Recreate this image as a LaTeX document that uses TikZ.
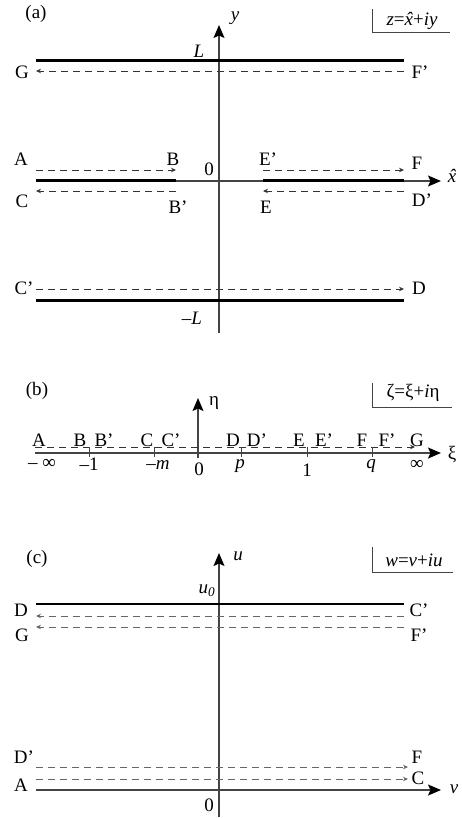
\documentclass[tikz,border=0pt]{standalone}
\usepackage{fontspec}
\setmainfont{Liberation Serif}
\usetikzlibrary{arrows.meta}
\definecolor{axisgray}{HTML}{444444}
\definecolor{dashgray}{HTML}{333333}
\definecolor{dashlight}{HTML}{666666}
\newcommand{\xhat}{\textit{x\llap{\char"02C6\kern0.04em}}}
\begin{document}
\begin{tikzpicture}[x=1pt,y=-1pt,
  lbl/.style={font=\fontsize{19}{22}\selectfont, inner sep=0pt, anchor=center},
  axisline/.style={draw=axisgray, line width=1.5pt, -{Stealth[length=13pt,width=11pt,inset=2.5pt,color=black]}},
  wall/.style={draw=black, line width=3pt},
  flow/.style={draw=dashgray, line width=0.9pt, dash pattern=on 7pt off 5pt, -{Stealth[length=5pt,width=4.5pt]}},
  flowc/.style={flow, draw=dashlight},
  tick/.style={draw=axisgray, line width=1pt},
  boxline/.style={draw=axisgray, line width=1pt}
]
\useasboundingbox (0,0) rectangle (462,818);

% ================= (a) =================
\node[lbl] (la) at (36,14) {(a)};
\coordinate (ayb) at (219,333);
\coordinate (ayt) at (219,25);
\draw[axisline] (ayb) -- (ayt);
\node[lbl] (ay) at (235,18) {\textit{y}};
\coordinate (axl) at (36,181);
\coordinate (axr) at (441,181);
\draw[axisline] (axl) -- (axr);
\node[lbl] (axh) at (452,176) {\xhat};
% walls
\coordinate (wt1) at (36,61);  \coordinate (wt2) at (404,61);
\draw[wall] (wt1) -- (wt2);
\coordinate (wb1) at (36,300); \coordinate (wb2) at (404,300);
\draw[wall] (wb1) -- (wb2);
\coordinate (wl1) at (36,181); \coordinate (wl2) at (176,181);
\draw[wall] (wl1) -- (wl2);
\coordinate (wr1) at (263,181); \coordinate (wr2) at (404,181);
\draw[wall] (wr1) -- (wr2);
\node[lbl] (aL) at (199,51) {\textit{L}};
\node[lbl] (amL) at (192,318) {–\textit{L}};
\node[lbl] (a0) at (209,169) {0};
% labels
\node[lbl] (aG) at (22,72) {G};
\node[lbl] (aFp) at (420,72) {F’};
\node[lbl] (aA) at (21,159) {A};
\node[lbl] (aB) at (173,159) {B};
\node[lbl] (aEp) at (268,159) {E’};
\node[lbl] (aF) at (417,163) {F};
\node[lbl] (aC) at (22,201) {C};
\node[lbl] (aBp) at (178,207) {B’};
\node[lbl] (aE) at (266,207) {E};
\node[lbl] (aDp) at (422,200) {D’};
\node[lbl] (aCp) at (24,288) {C’};
\node[lbl] (aD) at (419,288) {D};
% flows
\coordinate (fFp) at (404,71); \coordinate (fG) at (36,71);
\draw[flow] (fFp) -- (fG);
\coordinate (fA) at (36,170); \coordinate (fB) at (176,170);
\draw[flow] (fA) -- (fB);
\coordinate (fEp) at (263,170); \coordinate (fF) at (404,170);
\draw[flow] (fEp) -- (fF);
\coordinate (fBp) at (176,191); \coordinate (fC) at (36,191);
\draw[flow] (fBp) -- (fC);
\coordinate (fDp) at (404,191); \coordinate (fE) at (263,191);
\draw[flow] (fDp) -- (fE);
\coordinate (fCp) at (36,289); \coordinate (fD) at (404,289);
\draw[flow] (fCp) -- (fD);
% box label
\node[lbl] (za) at (412,21) {\textit{z}=\xhat+\textit{iy}};
\coordinate (zb1) at (372,9); \coordinate (zb2) at (372,33); \coordinate (zb3) at (450,33);
\draw[boxline] (zb1) -- (zb2) -- (zb3);

% ================= (b) =================
\node[lbl] (lb) at (37,391) {(b)};
\coordinate (bxl) at (35,453); \coordinate (bxr) at (441,453);
\draw[axisline] (bxl) -- (bxr);
\coordinate (byb) at (198,458); \coordinate (byt) at (198,398);
\draw[axisline] (byb) -- (byt);
\node[lbl] (beta) at (214,403) {η};
\node[lbl] (bxi) at (452,455) {ξ};
\coordinate (bd1) at (35,447); \coordinate (bd2) at (415,447);
\draw[flow] (bd1) -- (bd2);
\foreach \t/\x in {t1/89,tm/154,tp/241,tone/307,tq/372}{
  \coordinate (\t a) at (\x,447); \coordinate (\t b) at (\x,457);
  \draw[tick] (\t a) -- (\t b);
}
\node[lbl] (bA) at (39,440) {A};
\node[lbl] (bB) at (80,440) {B};
\node[lbl] (bBp) at (104,440) {B’};
\node[lbl] (bC) at (147,440) {C};
\node[lbl] (bCp) at (171,440) {C’};
\node[lbl] (bD) at (233,440) {D};
\node[lbl] (bDp) at (257,440) {D’};
\node[lbl] (bE) at (299,440) {E};
\node[lbl] (bEp) at (324,440) {E’};
\node[lbl] (bF) at (362,440) {F};
\node[lbl] (bFp) at (387,440) {F’};
\node[lbl] (bG) at (417,440) {G};
\node[lbl] (vminf) at (42,464) {– ∞};
\node[lbl] (vm1) at (89,464) {–1};
\node[lbl] (vmm) at (158,465) {–\textit{m}};
\node[lbl] (v0) at (199,469) {0};
\node[lbl] (vp) at (240,466) {\textit{p}};
\node[lbl] (v1) at (307,470) {1};
\node[lbl] (vq) at (371,466) {\textit{q}};
\node[lbl] (vinf) at (417,465) {∞};
\node[lbl] (zetab) at (413,393) {ζ=ξ+\textit{i}η};
\coordinate (zc1) at (372,383); \coordinate (zc2) at (372,407); \coordinate (zc3) at (452,407);
\draw[boxline] (zc1) -- (zc2) -- (zc3);

% ================= (c) =================
\node[lbl] (lc) at (37,559) {(c)};
\coordinate (cyb) at (219,817); \coordinate (cyt) at (219,553);
\draw[axisline] (cyb) -- (cyt);
\node[lbl] (cu) at (238,556) {\textit{u}};
\coordinate (cxl) at (36,790); \coordinate (cxr) at (441,790);
\draw[axisline] (cxl) -- (cxr);
\node[lbl] (cv) at (454,789) {\textit{v}};
\node[lbl] (c0) at (209,805) {0};
\coordinate (cw1) at (36,604); \coordinate (cw2) at (404,604);
\draw[black, line width=1.1pt] (cw1) -- (cw2);
\node[lbl] (cu0) at (207,591) {\textit{u}\textsubscript{\textit{0}}};
\node[lbl] (cD) at (21,610) {D};
\node[lbl] (cCp) at (419,610) {C’};
\node[lbl] (cG) at (22,635) {G};
\node[lbl] (cFp) at (419,635) {F’};
\node[lbl] (cDp) at (24,757) {D’};
\node[lbl] (cF) at (417,757) {F};
\node[lbl] (cA) at (21,785) {A};
\node[lbl] (cC) at (418,778) {C};
\coordinate (g1) at (404,616); \coordinate (g2) at (36,616);
\draw[flowc] (g1) -- (g2);
\coordinate (g3) at (404,627); \coordinate (g4) at (36,627);
\draw[flowc] (g3) -- (g4);
\coordinate (g5) at (36,767); \coordinate (g6) at (408,767);
\draw[flowc] (g5) -- (g6);
\coordinate (g7) at (36,779); \coordinate (g8) at (408,779);
\draw[flowc] (g7) -- (g8);
\node[lbl] (wc) at (414,560) {\textit{w}=\textit{v}+\textit{iu}};
\coordinate (zd1) at (372,547); \coordinate (zd2) at (372,572); \coordinate (zd3) at (453,572);
\draw[boxline] (zd1) -- (zd2) -- (zd3);
\end{tikzpicture}
\end{document}
